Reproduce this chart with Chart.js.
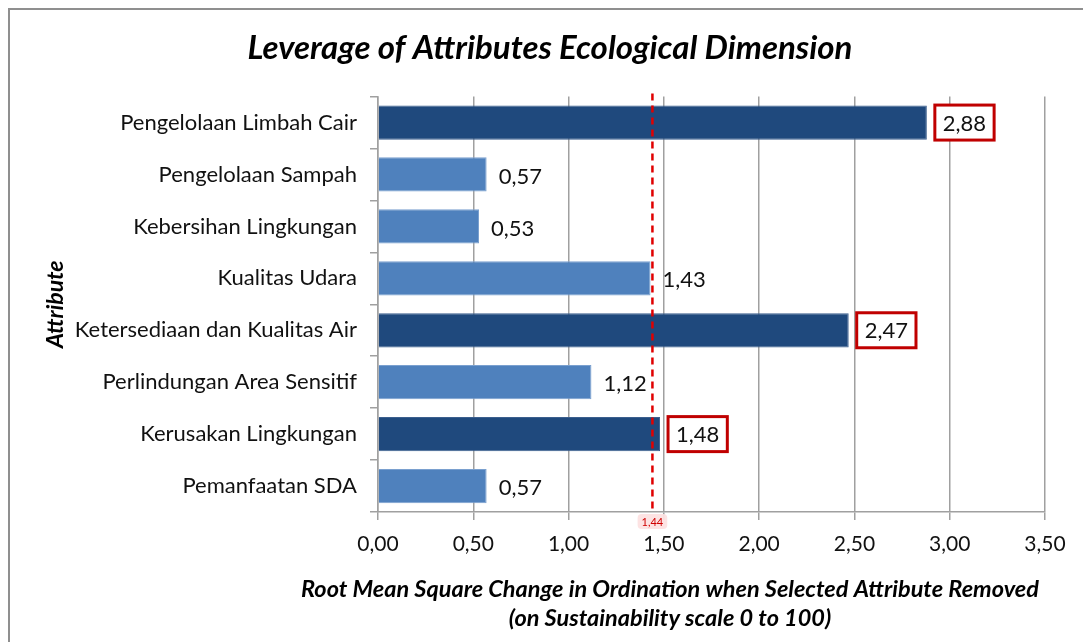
<!DOCTYPE html>
<html>
<head>
<meta charset="utf-8">
<script src="https://cdn.jsdelivr.net/npm/chart.js@4.4.0/dist/chart.umd.min.js"></script>
<style>
html,body{margin:0;padding:0;background:#fff;overflow:hidden;}
#wrap{position:relative;width:1083px;height:642px;overflow:hidden;background:#fff;}
#frame{position:absolute;left:8px;top:8px;width:1200px;height:800px;border-left:2px solid #8f8f8f;border-top:2px solid #8f8f8f;}
#c{position:absolute;left:0;top:0;}
</style>
</head>
<body>
<div id="wrap"><div id="frame"></div><canvas id="c" width="1083" height="642"></canvas></div>
<script>
// ---- data ----
const categories = [
  "Pengelolaan Limbah Cair",
  "Pengelolaan Sampah",
  "Kebersihan Lingkungan",
  "Kualitas Udara",
  "Ketersediaan dan Kualitas Air",
  "Perlindungan Area Sensitif",
  "Kerusakan Lingkungan",
  "Pemanfaatan SDA"
];
const values = [2.88, 0.57, 0.53, 1.43, 2.47, 1.12, 1.48, 0.57];
const highlighted = [true, false, false, false, true, false, true, false];
const threshold = 1.44;
const xTickValues = [0, 0.5, 1.0, 1.5, 2.0, 2.5, 3.0, 3.5];
const chartTitle = "Leverage of Attributes Ecological Dimension";
const xTitleLines = ["Root Mean Square Change in Ordination when Selected Attribute Removed", "(on Sustainability scale 0 to 100)"];
const yTitle = "Attribute";

const FONT = "Lato, 'Open Sans', sans-serif";
const DARK = "#1f497d";
const LIGHT = "#4f81bd";
const fmt = v => v.toFixed(2).replace('.', ',');

const overlayPlugin = {
  id: 'overlay',
  afterDatasetsDraw(chart) {
    const ctx = chart.ctx;
    const xs = chart.scales.x;
    const area = chart.chartArea;
    // threshold dashed line
    const tx = xs.getPixelForValue(threshold);
    ctx.save();
    ctx.strokeStyle = '#e00000';
    ctx.lineWidth = 2.5;
    ctx.setLineDash([7, 5]);
    ctx.beginPath();
    ctx.moveTo(tx, area.top - 3);
    ctx.lineTo(tx, area.bottom);
    ctx.stroke();
    ctx.restore();

    // value labels
    const meta = chart.getDatasetMeta(0);
    ctx.save();
    ctx.font = "22px " + FONT;
    ctx.textBaseline = 'middle';
    meta.data.forEach((bar, i) => {
      const txt = fmt(values[i]);
      const w = ctx.measureText(txt).width;
      const y = bar.y;
      if (highlighted[i]) {
        const bw = w + 16, bh = 35, bx = bar.x + 8;
        ctx.fillStyle = '#ffffff';
        ctx.fillRect(bx, y - bh / 2, bw, bh);
        ctx.strokeStyle = '#c00000';
        ctx.lineWidth = 3;
        ctx.strokeRect(bx, y - bh / 2, bw, bh);
        ctx.fillStyle = '#111';
        ctx.textAlign = 'center';
        ctx.fillText(txt, bx + bw / 2, y + 1);
      } else {
        ctx.fillStyle = '#111';
        ctx.textAlign = 'left';
        ctx.fillText(txt, bar.x + 12, y + 2);
      }
    });
    ctx.restore();
  },
  afterDraw(chart) {
    const ctx = chart.ctx;
    const xs = chart.scales.x;
    const area = chart.chartArea;
    const tx = xs.getPixelForValue(threshold);
    // threshold badge
    ctx.save();
    ctx.font = "11px " + FONT;
    const t = fmt(threshold);
    const w = ctx.measureText(t).width + 8;
    const h = 15;
    const by = area.bottom + 2;
    ctx.fillStyle = 'rgba(253,226,226,0.95)';
    ctx.beginPath();
    if (ctx.roundRect) ctx.roundRect(tx - w / 2, by, w, h, 4); else ctx.rect(tx - w / 2, by, w, h);
    ctx.fill();
    ctx.fillStyle = '#d00000';
    ctx.textAlign = 'center';
    ctx.textBaseline = 'middle';
    ctx.fillText(t, tx, by + h / 2 + 1);
    ctx.restore();

    // x axis title (two lines)
    ctx.save();
    ctx.font = "italic bold 23.5px " + FONT;
    ctx.fillStyle = '#000';
    ctx.textAlign = 'center';
    ctx.textBaseline = 'middle';
    ctx.fillText(xTitleLines[0], 670, 589);
    ctx.fillText(xTitleLines[1], 670, 618);
    ctx.restore();
  }
};

new Chart(document.getElementById('c'), {
  type: 'bar',
  data: {
    labels: categories,
    datasets: [{
      data: values,
      backgroundColor: highlighted.map(h => h ? DARK : LIGHT),
      borderColor: highlighted.map(h => h ? '#3b5f8e' : '#7aa0cf'),
      borderWidth: 1,
      barPercentage: 0.66,
      categoryPercentage: 1.0
    }]
  },
  options: {
    indexAxis: 'y',
    responsive: false,
    devicePixelRatio: 1,
    animation: false,
    layout: { padding: { left: 55, right: 38, top: 0, bottom: 0 } },
    plugins: {
      legend: { display: false },
      tooltip: { enabled: false },
      title: {
        display: true,
        text: chartTitle,
        color: '#000',
        font: { family: FONT, size: 33, weight: 'bold', style: 'italic' },
        padding: { top: 29, bottom: 28 }
      }
    },
    scales: {
      x: {
        min: 0,
        max: 3.5,
        afterBuildTicks(scale) { scale.ticks = xTickValues.map(v => ({ value: v })); },
        afterFit(scale) { scale.height = 130; },
        ticks: {
          color: '#111',
          font: { family: FONT, size: 21 },
          padding: 12,
          callback: v => fmt(v)
        },
        grid: { color: '#a0a0a0', lineWidth: 1.5, tickLength: 8, drawOnChartArea: true },
        border: { color: '#a0a0a0', width: 1.5 }
      },
      y: {
        afterFit(scale) { scale.width = 323; },
        ticks: {
          color: '#111',
          font: { family: FONT, size: 22 },
          padding: 13
        },
        grid: { color: '#a0a0a0', lineWidth: 1.5, tickLength: 8, drawOnChartArea: false },
        border: { color: '#a0a0a0', width: 1.5 },
        title: {
          display: true,
          text: yTitle,
          color: '#000',
          font: { family: FONT, size: 23, weight: 'bold', style: 'italic' },
          padding: { top: -13, bottom: 4 }
        }
      }
    }
  },
  plugins: [overlayPlugin]
});
</script>
</body>
</html>
